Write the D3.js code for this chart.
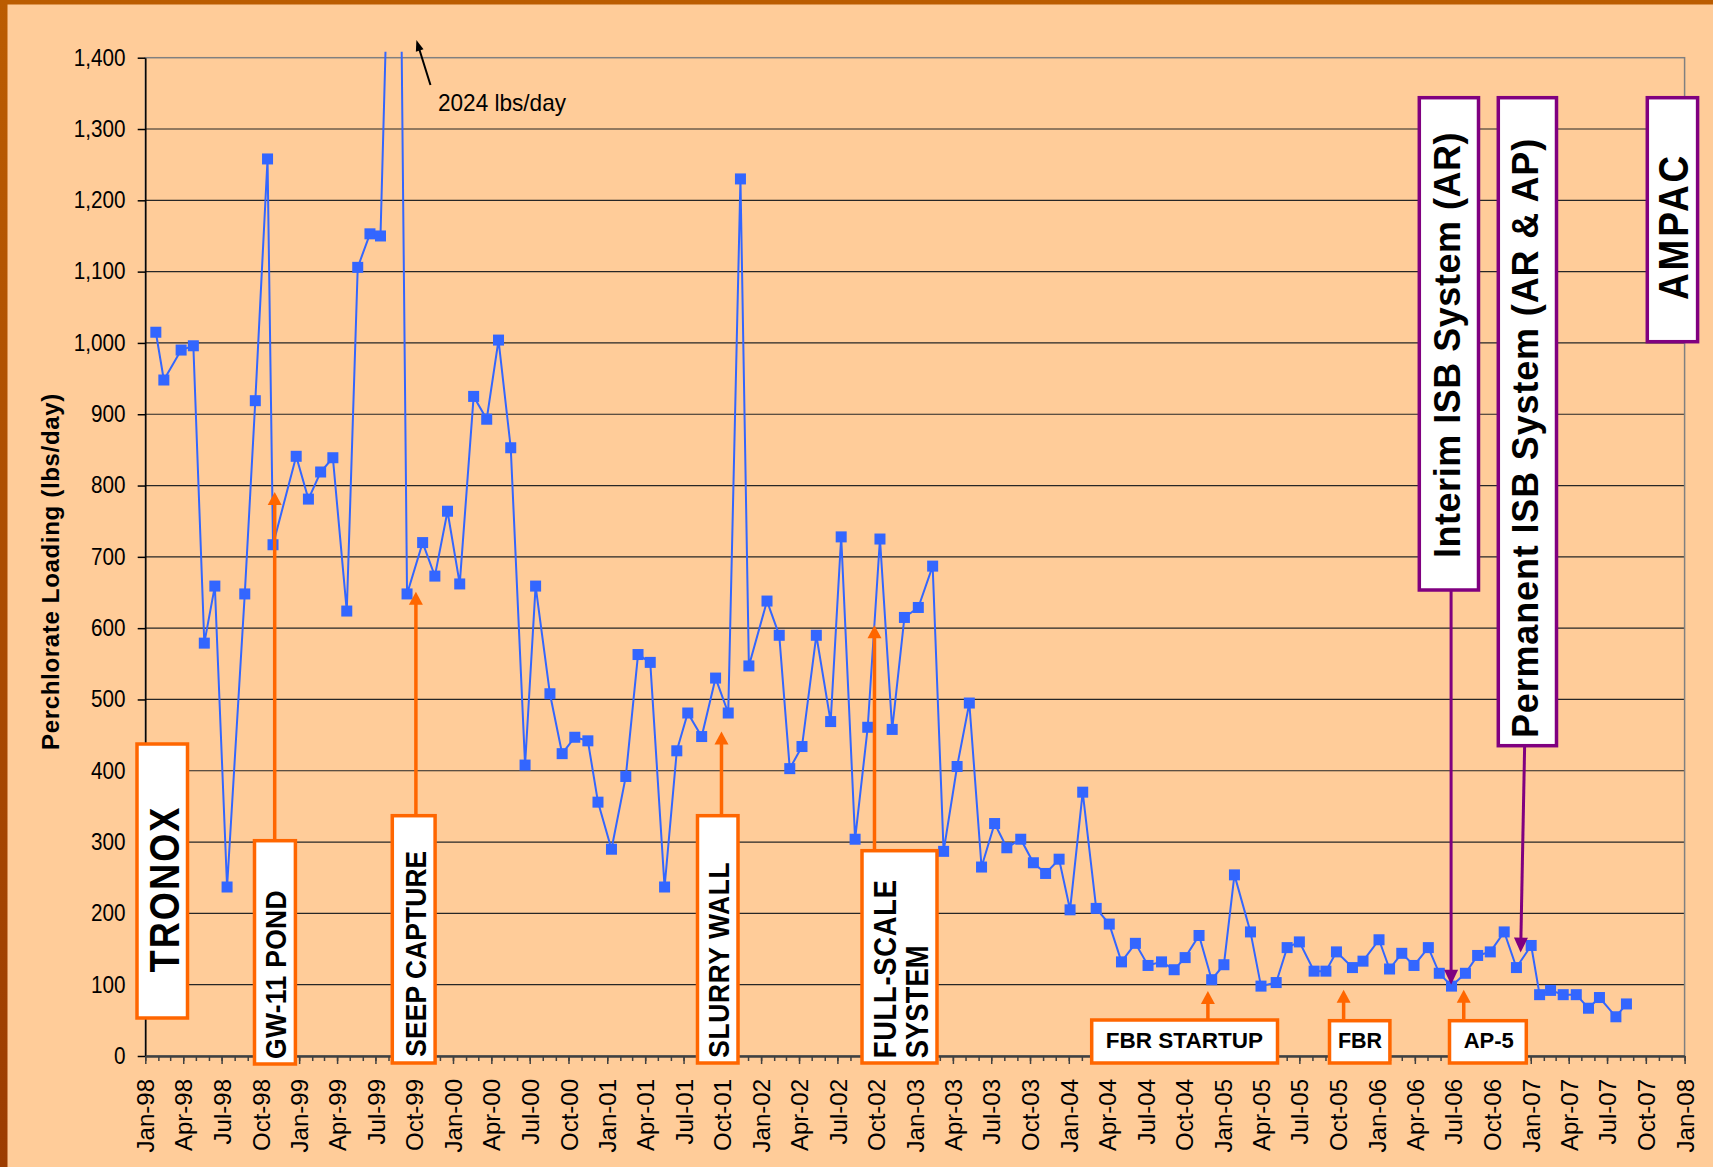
<!DOCTYPE html>
<html>
<head>
<meta charset="utf-8">
<script src="https://cdn.jsdelivr.net/npm/d3@7"></script>
<style>
    body { margin: 0; background: #ffcc99; }
    svg { display: block; font-family: "Liberation Sans", Arial, sans-serif; }
</style>
</head>
<body>
<div class="chart"></div>
<script>
// sampling dates and perchlorate loading (lbs/day)
const sampleDates = [
    "1998-01-26", "1998-02-14", "1998-03-27", "1998-04-25", "1998-05-21", "1998-06-15",
    "1998-07-14", "1998-08-25", "1998-09-19", "1998-10-18", "1998-10-31", "1998-12-25",
    "1999-01-23", "1999-02-21", "1999-03-22", "1999-04-24", "1999-05-20", "1999-06-18",
    "1999-07-13", "1999-08-22", "1999-09-14", "1999-10-21", "1999-11-19", "1999-12-19",
    "2000-01-17", "2000-02-19", "2000-03-21", "2000-04-18", "2000-05-17", "2000-06-20",
    "2000-07-15", "2000-08-18", "2000-09-16", "2000-10-16", "2000-11-16", "2000-12-10",
    "2001-01-11", "2001-02-14", "2001-03-15", "2001-04-13", "2001-05-17", "2001-06-15",
    "2001-07-11", "2001-08-13", "2001-09-15", "2001-10-15", "2001-11-13", "2001-12-03",
    "2002-01-15", "2002-02-13", "2002-03-10", "2002-04-08", "2002-05-12", "2002-06-15",
    "2002-07-10", "2002-08-12", "2002-09-11", "2002-10-10", "2002-11-08", "2002-12-07",
    "2003-01-09", "2003-02-12", "2003-03-10", "2003-04-11", "2003-05-10", "2003-06-08",
    "2003-07-09", "2003-08-07", "2003-09-09", "2003-10-09", "2003-11-07", "2003-12-09",
    "2004-01-04", "2004-02-03", "2004-03-06", "2004-04-06", "2004-05-05", "2004-06-07",
    "2004-07-07", "2004-08-08", "2004-09-07", "2004-10-03", "2004-11-05", "2004-12-05",
    "2005-01-03", "2005-01-28", "2005-03-07", "2005-04-01", "2005-05-07", "2005-06-02",
    "2005-07-01", "2005-08-05", "2005-09-02", "2005-09-27", "2005-11-04", "2005-11-29",
    "2006-01-06", "2006-01-31", "2006-03-01", "2006-03-30", "2006-05-03", "2006-05-29",
    "2006-06-27", "2006-07-30", "2006-08-28", "2006-09-27", "2006-10-30", "2006-11-28",
    "2007-01-02", "2007-01-22", "2007-02-17", "2007-03-19", "2007-04-19", "2007-05-18",
    "2007-06-13", "2007-07-22", "2007-08-16"
];

const loading = [
    1015, 948, 990, 996, 579, 659, 237, 648, 919, 1258, 717, 841,
    781, 819, 839, 624, 1106, 1153, 1150, 2024, 648, 720, 673, 764,
    662, 925, 893, 1004, 853, 408, 659, 508, 424, 447, 442, 356,
    290, 392, 563, 552, 237, 428, 481, 448, 530, 481, 1230, 547,
    638, 590, 403, 434, 590, 469, 728, 304, 461, 725, 458, 615,
    629, 687, 287, 406, 495, 265, 326, 292, 304, 271, 256, 276,
    205, 370, 207, 185, 132, 158, 127, 132, 121, 138, 169, 107,
    128, 254, 174, 98, 103, 152, 160, 119, 119, 146, 124, 133,
    163, 122, 144, 127, 152, 116, 98, 116, 141, 146, 174, 124,
    155, 86, 92, 86, 86, 67, 82, 55, 73
];

const yTicks = [0, 100, 200, 300, 400, 500, 600, 700, 800, 900, 1000, 1100, 1200, 1300, 1400];

const xTickLabels = [
    "Jan-98", "Apr-98", "Jul-98", "Oct-98", "Jan-99", "Apr-99", "Jul-99", "Oct-99",
    "Jan-00", "Apr-00", "Jul-00", "Oct-00", "Jan-01", "Apr-01", "Jul-01", "Oct-01",
    "Jan-02", "Apr-02", "Jul-02", "Oct-02", "Jan-03", "Apr-03", "Jul-03", "Oct-03",
    "Jan-04", "Apr-04", "Jul-04", "Oct-04", "Jan-05", "Apr-05", "Jul-05", "Oct-05",
    "Jan-06", "Apr-06", "Jul-06", "Oct-06", "Jan-07", "Apr-07", "Jul-07", "Oct-07",
    "Jan-08"
];

// remediation milestones (orange) and ISB systems (purple)
const milestoneNames = ["GW-11 POND", "SEEP CAPTURE", "SLURRY WALL", "FULL-SCALE SYSTEM", "FBR STARTUP", "FBR", "AP-5"];
const milestoneDates = ["1998-11-04", "1999-10-05", "2001-09-29", "2002-09-27", "2004-11-26", "2005-10-14", "2006-07-26"];
const milestoneTips = [791, 651, 455, 604, 91, 93, 93];

const isbNames = ["Interim ISB System (AR)", "Permanent ISB System (AR & AP)"];
const isbDates = ["2006-06-26", "2006-12-08"];
const isbTips = [100, 145];

const peakNote = "2024 lbs/day";

const w = 1713;
const h = 1167;
const orange = "#ff6600";
const purple = "#800080";

const parseDate = d3.utcParse("%Y-%m-%d");
const parseTick = d3.utcParse("%b-%y");

const points = sampleDates.map((d, i) => ({ date: parseDate(d), value: loading[i] }));

const x = d3
    .scaleUtc()
    .domain([parseTick("Jan-98"), parseTick("Jan-08")])
    .range([145.3, 1684.6]);

const y = d3.scaleLinear().domain([0, 1400]).range([1056, 57.7]);

const svg = d3
    .select(".chart")
    .append("svg")
    .attr("width", w)
    .attr("height", h);

// brown frame + peach slide background
const frameGrad = svg.append("defs")
    .append("linearGradient")
    .attr("id", "frame")
    .attr("x1", 0).attr("y1", 0).attr("x2", 0).attr("y2", 1);
frameGrad.append("stop").attr("offset", "0%").attr("stop-color", "#bb5c00");
frameGrad.append("stop").attr("offset", "100%").attr("stop-color", "#9c3c00");

svg.append("rect").attr("width", w).attr("height", h).attr("fill", "url(#frame)");
svg.append("rect")
    .attr("x", 7.5)
    .attr("y", 4.5)
    .attr("width", w)
    .attr("height", h)
    .attr("fill", "#ffcc99");

// gridlines
svg.append("g")
    .selectAll("line")
    .data(yTicks.filter((d) => d > 0 && d < 1400))
    .join("line")
    .attr("x1", x.range()[0])
    .attr("x2", x.range()[1])
    .attr("y1", (d) => y(d))
    .attr("y2", (d) => y(d))
    .attr("stroke", "#262626")
    .attr("stroke-width", 1.2);

// plot area border (gray)
svg.append("rect")
    .attr("x", x.range()[0])
    .attr("y", y(1400))
    .attr("width", x.range()[1] - x.range()[0])
    .attr("height", y(0) - y(1400))
    .attr("fill", "none")
    .attr("stroke", "#808080")
    .attr("stroke-width", 1.5);

// y axis (labels slightly condensed like the original)
const ySqueeze = 0.9;
const yAxis = d3
    .axisLeft(y)
    .tickValues(yTicks)
    .tickSize(7.6)
    .tickSizeOuter(0)
    .tickPadding(12)
    .tickFormat(d3.format(","));

svg.append("g")
    .attr("transform", `translate(${x.range()[0]},0)`)
    .call(yAxis)
    .call((g) => g.select(".domain").attr("stroke", "#000").attr("stroke-width", 1.5))
    .call((g) => g.selectAll(".tick line").attr("stroke", "#000").attr("stroke-width", 1.5))
    .call((g) =>
        g
            .selectAll(".tick text")
            .attr("font-size", 23)
            .attr("font-family", "Liberation Sans, Arial, sans-serif")
            .attr("fill", "#000")
            .attr("transform", `scale(${ySqueeze},1)`)
            .attr("x", -19.8 / ySqueeze)
    );

// x axis: monthly minor ticks, quarterly labelled ticks
const months = d3.utcMonth.range(x.domain()[0], x.domain()[1]).concat([x.domain()[1]]);

svg.append("g")
    .attr("transform", `translate(0,${y(0)})`)
    .call(d3.axisBottom(x).tickValues(months).tickSize(5).tickSizeOuter(0).tickFormat(""))
    .call((g) => g.select(".domain").remove())
    .call((g) => g.selectAll(".tick line").attr("stroke", "#404040").attr("stroke-width", 1.5));

svg.append("g")
    .attr("transform", `translate(0,${y(0)})`)
    .call(
        d3
            .axisBottom(x)
            .tickValues(xTickLabels.map(parseTick))
            .tickSize(8)
            .tickSizeOuter(0)
            .tickFormat(d3.utcFormat("%b-%y"))
    )
    .call((g) => g.select(".domain").attr("stroke", "#404040").attr("stroke-width", 2.6))
    .call((g) => g.selectAll(".tick line").attr("stroke", "#404040").attr("stroke-width", 1.5))
    .call((g) =>
        g
            .selectAll(".tick text")
            .attr("transform", "rotate(-90)")
            .attr("x", -23)
            .attr("y", 0)
            .attr("dy", "0.36em")
            .attr("text-anchor", "end")
            .attr("font-size", 24)
            .attr("font-family", "Liberation Sans, Arial, sans-serif")
            .attr("fill", "#000")
    );

// data line + markers
svg.append("clipPath")
    .attr("id", "plot-clip")
    .append("rect")
    .attr("x", x.range()[0])
    .attr("y", 51.7)
    .attr("width", x.range()[1] - x.range()[0])
    .attr("height", y(0) - 51.7);

const line = d3
    .line()
    .x((d) => x(d.date))
    .y((d) => y(d.value));

const dataG = svg.append("g").attr("clip-path", "url(#plot-clip)");

dataG.append("path")
    .datum(points)
    .attr("d", line)
    .attr("fill", "none")
    .attr("stroke", "#3366ff")
    .attr("stroke-width", 2);

dataG.selectAll("rect")
    .data(points)
    .join("rect")
    .attr("x", (d) => x(d.date) - 5.5)
    .attr("y", (d) => y(d.value) - 5.5)
    .attr("width", 11)
    .attr("height", 11)
    .attr("fill", "#3366ff");

// ---- annotations ----
const ann = svg.append("g");

// stretch a text to a target length with letter spacing, glyphs squeezed along the run
function fit(t, len, squeeze) {
    const natural = t.node().getComputedTextLength();
    const n = t.text().length;
    t.attr("letter-spacing", (len / squeeze - natural) / n);
}

function arrow(x1, y1, x2, y2, color, width, headW, headL) {
    const dx = x2 - x1;
    const dy = y2 - y1;
    const len = Math.sqrt(dx * dx + dy * dy);
    const ux = dx / len;
    const uy = dy / len;
    const bx = x2 - ux * headL;
    const by = y2 - uy * headL;
    ann.append("line")
        .attr("x1", x1)
        .attr("y1", y1)
        .attr("x2", bx + ux * 1)
        .attr("y2", by + uy * 1)
        .attr("stroke", color)
        .attr("stroke-width", width);
    ann.append("path")
        .attr(
            "d",
            `M${x2},${y2}L${bx - (uy * headW) / 2},${by + (ux * headW) / 2}L${bx + (uy * headW) / 2},${by - (ux * headW) / 2}Z`
        )
        .attr("fill", color);
}

function box(x0, y0, x1, y1, color) {
    ann.append("rect")
        .attr("x", x0)
        .attr("y", y0)
        .attr("width", x1 - x0)
        .attr("height", y1 - y0)
        .attr("fill", "#fff")
        .attr("stroke", color)
        .attr("stroke-width", 3.5);
}

function vText(text, bx, by, size, len, anchor, squeeze) {
    const t = ann.append("text")
        .attr("transform", `translate(${bx},${by}) rotate(-90) scale(${squeeze},1)`)
        .attr("text-anchor", anchor)
        .attr("font-size", size)
        .attr("font-weight", "bold")
        .text(text);
    fit(t, len, squeeze);
    return t;
}

function hText(text, cx, by, size) {
    ann.append("text")
        .attr("x", cx)
        .attr("y", by)
        .attr("text-anchor", "middle")
        .attr("font-size", size)
        .attr("font-weight", "bold")
        .text(text);
}

// y axis title
const yTitle = ann.append("text")
    .attr("transform", `translate(59.3,571.5) rotate(-90)`)
    .attr("text-anchor", "middle")
    .attr("font-size", 24)
    .attr("font-weight", "bold")
    .text("Perchlorate Loading (lbs/day)");
fit(yTitle, 357, 1);

// site labels
box(137, 744, 187.5, 1018, orange);
vText("TRONOX", 178.5, 889, 42, 167, "middle", 0.86);

box(1647.3, 97.7, 1697.6, 341.7, purple);
vText("AMPAC", 1688.3, 226.5, 42, 147, "middle", 0.88);

// orange milestone arrows (drawn under their boxes)
const mBoxTop = [840.7, 815.7, 815.7, 850.7, 1020, 1020.7, 1020.7];
milestoneNames.forEach((name, i) => {
    const ax = x(parseDate(milestoneDates[i]));
    arrow(ax, mBoxTop[i] + 2, ax, y(milestoneTips[i]), orange, 3.5, 14, 13);
});

box(254.5, 840.7, 295.4, 1064, orange);
vText(milestoneNames[0], 286, 1059, 30, 169, "start", 0.88);

box(392.3, 815.7, 435.1, 1063, orange);
vText(milestoneNames[1], 425.6, 1056.7, 30, 206, "start", 0.88);

box(697.5, 815.7, 738, 1063, orange);
vText(milestoneNames[2], 729, 1057.7, 30, 196, "start", 0.88);

box(862, 850.7, 937, 1063, orange);
vText("FULL-SCALE", 895.7, 1058.3, 31, 179, "start", 0.88);
vText("SYSTEM", 928.3, 1058.3, 31, 113, "start", 0.88);

box(1091.7, 1020, 1277.5, 1063, orange);
hText(milestoneNames[4], 1184.4, 1048.3, 22.5);

box(1329.5, 1020.7, 1389.9, 1063, orange);
hText(milestoneNames[5], 1360, 1048.3, 21.5);

box(1449.5, 1020.7, 1526.3, 1063, orange);
hText(milestoneNames[6], 1488.8, 1048.3, 22);

// purple ISB boxes and arrows
const isbBoxes = [
    [1419.3, 97.7, 1478.5, 590],
    [1498.3, 97.7, 1556.5, 745.7]
];
isbNames.forEach((name, i) => {
    const tx = x(parseDate(isbDates[i]));
    const b = isbBoxes[i];
    const topX = i === 0 ? tx : tx + 4;
    arrow(topX, b[3], tx, y(isbTips[i]), purple, 3, 14, 15);
});

box(1419.3, 97.7, 1478.5, 590, purple);
vText(isbNames[0], 1459.5, 558, 37, 426, "start", 0.97);

box(1498.3, 97.7, 1556.5, 745.7, purple);
vText(isbNames[1], 1537.8, 738, 37, 600, "start", 0.97);

// off-scale peak note
arrow(430.5, 85, 416.4, 40, "#000", 2, 8, 11);
ann.append("text")
    .attr("x", 438)
    .attr("y", 110.7)
    .attr("font-size", 24)
    .attr("textLength", 128)
    .attr("lengthAdjust", "spacingAndGlyphs")
    .text(peakNote);
</script>
</body>
</html>
